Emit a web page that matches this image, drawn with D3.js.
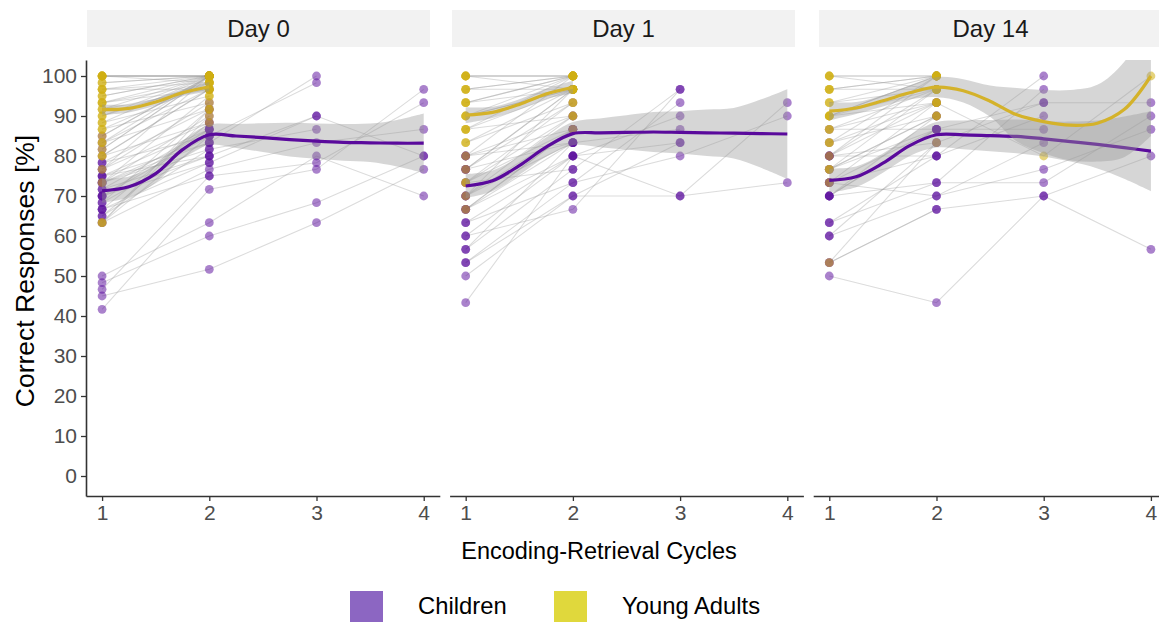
<!DOCTYPE html>
<html><head><meta charset="utf-8">
<script src="https://cdn.jsdelivr.net/npm/d3@7"></script>
<style>
body{margin:0;background:#fff;}
text{font-family:"Liberation Sans", Arial, Helvetica, sans-serif;}
</style></head><body>
<svg id="chart" width="1159" height="622"></svg>
<script>
// ---------------- DATA ----------------
const days = ["Day 0", "Day 1", "Day 14"];
const groups = ["Children", "Young Adults"];
const cycleTicks = [1, 2, 3, 4];
const yTicks = [0, 10, 20, 30, 40, 50, 60, 70, 80, 90, 100];

// each row = one participant, values per encoding-retrieval cycle (1..4)
const day0Children = [
  [45, 51.67, 63.33, 76.67], [48.33, 60, 68.33, 80], [50, 63.33, 80, 70],
  [41.67, 71.67, 76.67, 96.67], [46.67, 75, 78.33, 93.33], [63.33, 76.67, 83.33, 86.67],
  [66.67, 78.33, 90, 80], [70, 80, 90], [73.33, 81.67, 86.67], [75, 83.33, 100],
  [78.33, 85, 98.33], [85, 100], [81.67, 100], [78.33, 91.67], [76.67, 88.33],
  [75, 86.67], [73.33, 85], [71.67, 86.67], [70, 85], [68.33, 83.33], [66.67, 88.33],
  [65, 81.67], [63.33, 85], [71.67, 80], [73.33, 83.33], [68.33, 91.67], [70, 86.67],
  [76.67, 93.33], [65, 86.67], [80, 96.67], [83.33, 100], [75, 80], [70, 78.33],
  [66.67, 75], [73.33, 90]
];
const day0Adults = [
  [100, 100], [100, 100], [100, 100], [100, 100], [100, 100], [98.33, 100], [98.33, 100],
  [96.67, 100], [96.67, 98.33], [95, 100], [95, 100], [93.33, 100], [93.33, 98.33],
  [91.67, 100], [91.67, 96.67], [90, 100], [90, 98.33], [88.33, 100], [88.33, 95],
  [86.67, 98.33], [86.67, 93.33], [85, 100], [83.33, 96.67], [83.33, 91.67], [81.67, 100],
  [80, 96.67], [80, 88.33], [76.67, 100], [73.33, 95], [63.33, 91.67], [63.33, 90],
  [96.67, 96.67], [100, 98.33], [93.33, 96.67]
];
const day1Children = [
  [43.33, 80, 70, 93.33], [50, 70, 70, 73.33], [53.33, 73.33, 80, 90], [56.67, 76.67, 96.67],
  [60, 66.67, 96.67], [63.33, 73.33, 93.33], [60, 80, 90], [56.67, 83.33, 86.67],
  [63.33, 80, 83.33], [53.33, 70, 83.33], [66.67, 86.67], [70, 90], [76.67, 93.33],
  [80, 83.33], [73.33, 86.67], [66.67, 80], [70, 83.33], [76.67, 96.67], [80, 90],
  [73.33, 76.67], [70, 86.67], [76.67, 83.33], [80, 86.67], [66.67, 83.33]
];
const day1Adults = [
  [100, 100], [100, 100], [100, 100], [96.67, 100], [96.67, 100], [93.33, 100], [93.33, 100],
  [90, 96.67], [90, 96.67], [90, 100], [86.67, 100], [86.67, 96.67], [83.33, 96.67],
  [83.33, 93.33], [80, 100], [76.67, 96.67], [73.33, 93.33], [73.33, 90], [70, 96.67],
  [66.67, 86.67], [93.33, 96.67], [96.67, 96.67], [100, 96.67], [86.67, 90]
];
const day14Children = [
  [50, 43.33, 70, 56.67], [53.33, 66.67, 70, 80], [60, 70, 76.67, 86.67],
  [63.33, 73.33, 73.33, 90], [63.33, 80, 100], [70, 73.33, 96.67], [60, 83.33, 93.33, 93.33],
  [70, 86.67, 93.33], [80, 80, 90], [76.67, 86.67, 86.67], [73.33, 70, 83.33], [80, 93.33],
  [76.67, 90], [73.33, 86.67], [80, 83.33], [70, 90], [83.33, 93.33], [86.67, 86.67],
  [80, 100], [73.33, 80], [53.33, 66.67], [70, 86.67]
];
const day14Adults = [
  [100, 100], [100, 100], [96.67, 100], [96.67, 100], [93.33, 100], [93.33, 96.67],
  [90, 100], [90, 100], [90, 96.67], [86.67, 96.67], [86.67, 93.33], [83.33, 100],
  [83.33, 90], [76.67, 96.67], [73.33, 93.33], [53.33, 83.33], [80, 96.67],
  [90, 93.33, 80, 100], [96.67, 96.67], [100, 96.67], [76.67, 90]
];

// smoothed group trends (loess fit with 95% band), sampled at fitX
const fitX = [1, 1.25, 1.5, 1.75, 2, 2.25, 2.5, 2.75, 3, 3.25, 3.5, 3.75, 4];
const day0ChildFit = [71.3, 72.3, 75.6, 81.6, 85.3, 85.0, 84.6, 84.1, 83.7, 83.4, 83.3, 83.2, 83.2];
const day0ChildLo  = [68.3, 69.7, 73.4, 79.4, 82.8, 82.0, 81.0, 79.9, 79.3, 78.8, 78.5, 77.4, 75.8];
const day0ChildHi  = [74.3, 74.9, 77.8, 83.8, 87.8, 88.0, 88.2, 88.3, 88.1, 88.0, 88.1, 89.0, 90.6];
const day0AdultFit = [91.6, 91.9, 93.5, 95.8, 97.3];
const day0AdultLo  = [90.3, 90.9, 92.6, 94.9, 96.1];
const day0AdultHi  = [92.9, 92.9, 94.4, 96.7, 98.5];
const day1ChildFit = [72.5, 73.8, 77.6, 82.2, 85.6, 85.8, 85.9, 86.0, 85.9, 85.8, 85.7, 85.6, 85.5];
const day1ChildLo  = [69.5, 71.2, 75.3, 79.8, 82.7, 82.2, 81.6, 81.0, 80.6, 80.0, 79.4, 77.1, 74.3];
const day1ChildHi  = [75.5, 76.4, 79.9, 84.6, 88.5, 89.4, 90.2, 91.0, 91.2, 91.6, 92.0, 94.1, 96.7];
const day1AdultFit = [90.2, 90.9, 92.9, 95.5, 97.2];
const day1AdultLo  = [88.2, 89.5, 91.6, 94.2, 95.6];
const day1AdultHi  = [92.2, 92.3, 94.2, 96.8, 98.8];
const day14ChildFit = [73.9, 74.8, 78.2, 82.6, 85.3, 85.3, 85.1, 84.9, 84.3, 83.6, 82.9, 82.1, 81.2];
const day14ChildLo  = [70.9, 72.2, 75.8, 80.0, 82.1, 81.7, 81.2, 80.7, 79.9, 78.6, 76.9, 74.3, 71.2];
const day14ChildHi  = [76.9, 77.4, 80.6, 85.2, 88.5, 88.9, 89.0, 89.1, 88.7, 88.6, 88.9, 89.9, 91.2];
const day14AdultFit = [91.2, 92.0, 93.8, 95.8, 97.2, 96.3, 93.7, 90.3, 88.6, 87.7, 88.2, 91.6, 100];
const day14AdultLo  = [88.9, 90.5, 92.4, 94.1, 94.7, 93.4, 89.8, 83.6, 80.7, 78.9, 78.6, 79.7, 85];
const day14AdultHi  = [93.5, 93.5, 95.2, 97.5, 99.7, 99.2, 97.6, 97.0, 96.5, 96.5, 97.8, 103.5, 115];

// ---------------- LAYOUT / STYLE ----------------
const panels = [
  {label: days[0], children: day0Children, adults: day0Adults,
   cFit: day0ChildFit, cLo: day0ChildLo, cHi: day0ChildHi,
   aFit: day0AdultFit, aLo: day0AdultLo, aHi: day0AdultHi},
  {label: days[1], children: day1Children, adults: day1Adults,
   cFit: day1ChildFit, cLo: day1ChildLo, cHi: day1ChildHi,
   aFit: day1AdultFit, aLo: day1AdultLo, aHi: day1AdultHi},
  {label: days[2], children: day14Children, adults: day14Adults,
   cFit: day14ChildFit, cLo: day14ChildLo, cHi: day14ChildHi,
   aFit: day14AdultFit, aLo: day14AdultLo, aHi: day14AdultHi}
];
const panelLefts = [86, 449.6, 813.2];
const panelW = 353.8;
const stripBoxes = [[87, 430], [452, 795], [819, 1162]];
const plotTop = 60, plotBottom = 496;
const colChild = "#5c0f9e", colAdult = "#cfae12";
const lineChild = "#5a0a9c", lineAdult = "#d4b22a";
const legendChild = "#8c66c2", legendAdult = "#e0d83c";

const svg = d3.select("#chart");
const y = d3.scaleLinear().domain([-5, 104]).range([plotBottom, plotTop]);

panels.forEach((p, i) => {
  const left = panelLefts[i];
  const x = d3.scaleLinear().domain([0.85, 4.15]).range([left, left + panelW]);
  const g = svg.append("g");
  const clipId = "clip" + i;
  svg.append("clipPath").attr("id", clipId).append("rect")
    .attr("x", left).attr("y", plotTop).attr("width", panelW).attr("height", plotBottom - plotTop);

  // strip
  const sb = stripBoxes[i];
  svg.append("rect").attr("x", sb[0]).attr("y", 10).attr("width", sb[1] - sb[0]).attr("height", 37)
    .attr("fill", "#f2f2f2");
  svg.append("text").attr("x", (sb[0] + sb[1]) / 2).attr("y", 37).attr("text-anchor", "middle")
    .attr("font-size", 24).attr("fill", "#1a1a1a").text(p.label);

  const plot = g.append("g").attr("clip-path", `url(#${clipId})`);
  const line = d3.line().defined(d => d[1] != null).x(d => x(d[0])).y(d => y(d[1]));
  const toPts = row => row.map((v, k) => [cycleTicks[k], v]);

  // participant lines
  [...p.children, ...p.adults].forEach(row => {
    plot.append("path").attr("d", line(toPts(row))).attr("fill", "none")
      .attr("stroke", "#a0a0a0").attr("stroke-opacity", 0.38).attr("stroke-width", 1.05);
  });
  // points
  const pts = (rows, col, op) => rows.forEach(row => toPts(row).forEach(d => {
    plot.append("circle").attr("cx", x(d[0])).attr("cy", y(d[1])).attr("r", 4.4)
      .attr("fill", col).attr("fill-opacity", op);
  }));
  pts(p.children, colChild, 0.52);
  pts(p.adults, colAdult, 0.55);

  // smooth ribbons + lines
  const area = d3.area().curve(d3.curveCatmullRom.alpha(0.5))
    .x(d => x(d[0])).y0(d => y(d[1])).y1(d => y(d[2]));
  const fline = d3.line().curve(d3.curveCatmullRom.alpha(0.5)).x(d => x(d[0])).y(d => y(d[1]));
  const drawFit = (fit, lo, hi, col) => {
    const dat = fit.map((v, k) => [fitX[k], lo[k], hi[k]]);
    plot.append("path").attr("d", area(dat)).attr("fill", "#999999").attr("fill-opacity", 0.4);
    plot.append("path").attr("d", fline(fit.map((v, k) => [fitX[k], v]))).attr("fill", "none")
      .attr("stroke", col).attr("stroke-width", 3.2);
  };
  drawFit(p.cFit, p.cLo, p.cHi, lineChild);
  drawFit(p.aFit, p.aLo, p.aHi, lineAdult);

  // x axis
  const xa = svg.append("g").attr("transform", `translate(0,${plotBottom})`)
    .call(d3.axisBottom(x).tickValues(cycleTicks).tickFormat(d3.format("d")).tickSize(5).tickSizeOuter(0).tickPadding(4));
  xa.select(".domain").attr("stroke", "#333").attr("stroke-width", 1.6);
  xa.selectAll(".tick line").attr("stroke", "#333").attr("stroke-width", 1.3);
  xa.selectAll(".tick text").attr("fill", "#4d4d4d").attr("font-size", 21)
    .attr("font-family", "Liberation Sans, Arial, sans-serif");

  if (i === 0) {
    const ya = svg.append("g").attr("transform", `translate(${left},0)`)
      .call(d3.axisLeft(y).tickValues(yTicks).tickSize(5).tickSizeOuter(0).tickPadding(4));
    ya.select(".domain").attr("stroke", "#333").attr("stroke-width", 1.6);
    ya.selectAll(".tick line").attr("stroke", "#333").attr("stroke-width", 1.3);
    ya.selectAll(".tick text").attr("fill", "#4d4d4d").attr("font-size", 21)
      .attr("font-family", "Liberation Sans, Arial, sans-serif");
  }
});

// axis titles
svg.append("text").attr("transform", "translate(34,271) rotate(-90)").attr("text-anchor", "middle")
  .attr("font-size", 26.5).attr("fill", "#000").text("Correct Responses [%]");
svg.append("text").attr("x", 599).attr("y", 559).attr("text-anchor", "middle")
  .attr("font-size", 23.5).attr("fill", "#000").text("Encoding-Retrieval Cycles");

// legend
const legendX = [350, 554];
const legendCols = [legendChild, legendAdult];
groups.forEach((gname, k) => {
  svg.append("rect").attr("x", legendX[k]).attr("y", 591).attr("width", 33).attr("height", 33)
    .attr("fill", legendCols[k]);
  svg.append("text").attr("x", legendX[k] + 68).attr("y", 614).attr("font-size", 23.8)
    .attr("fill", "#000").text(gname);
});
</script>
</body></html>
